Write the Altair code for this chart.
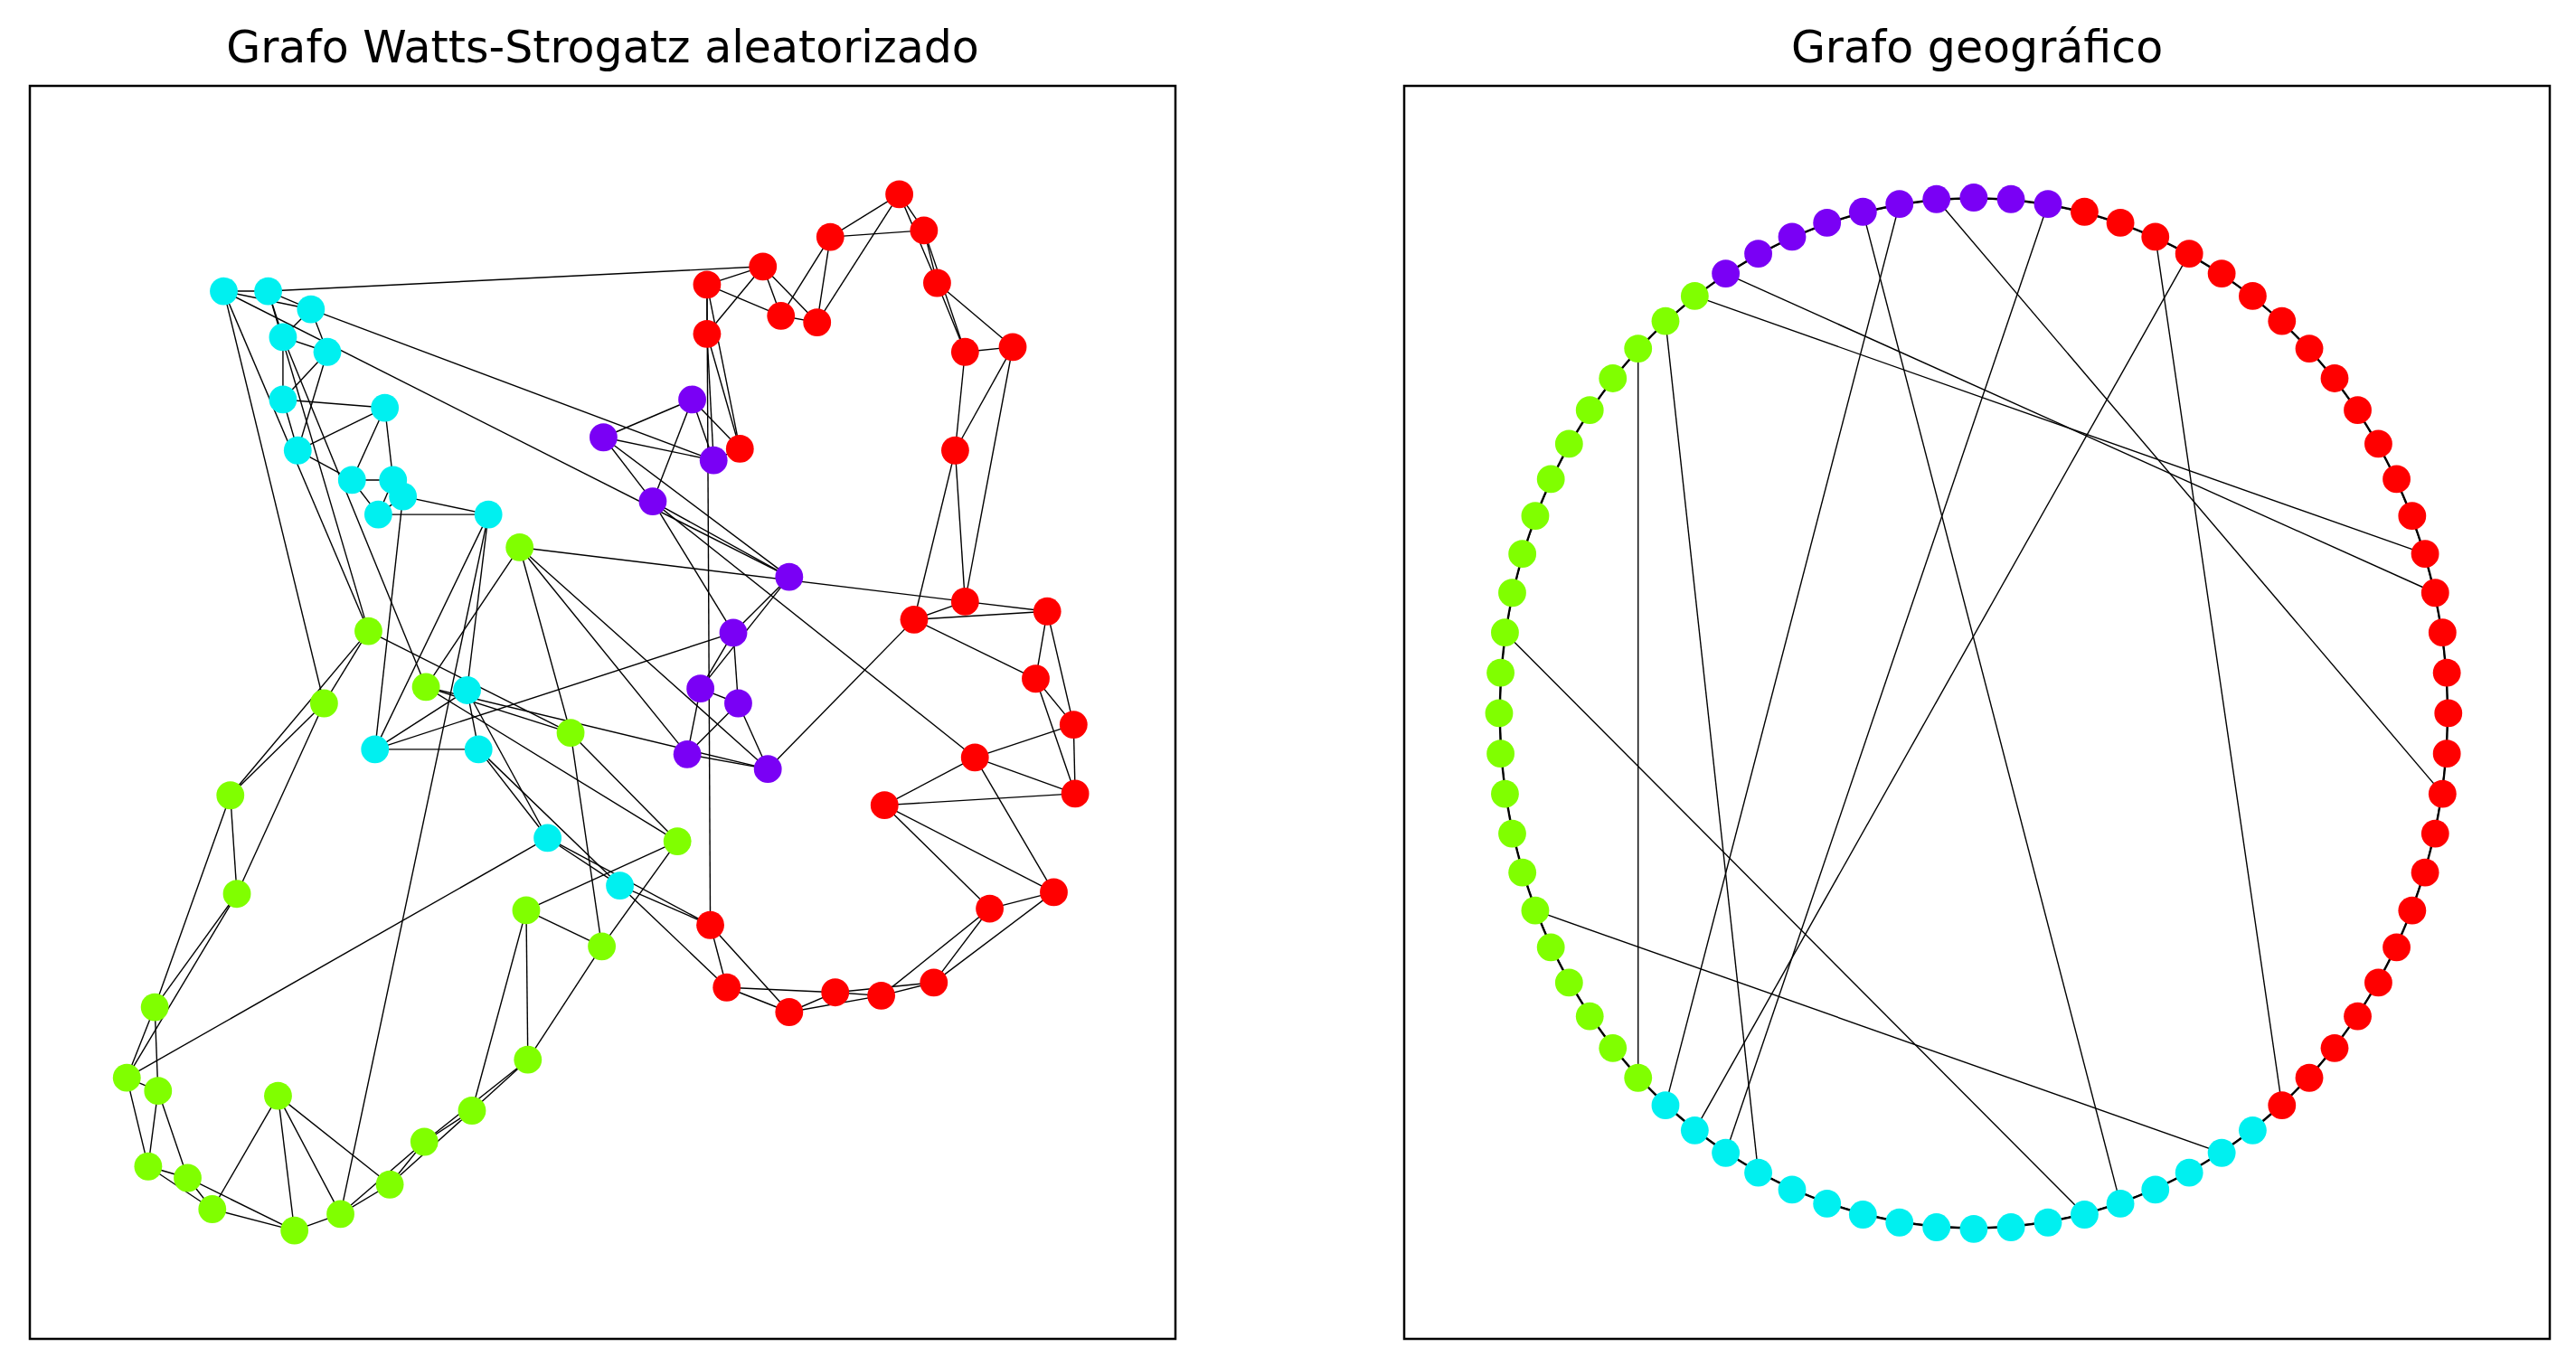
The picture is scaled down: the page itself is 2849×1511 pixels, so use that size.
import altair as alt
import pandas as pd
import math

# node groups in ring order (ring index k assigned below)
# left panel (spring layout) positions, in reference-picture coordinates
purple_left = [(466,468),(417,459),(448,428),(425,419),(445,385),(479,351),(396,305),(366,266),(420,243),(433,280)]
red_left = [(449,273),(429,203),(429,173),(463,162),(474,192),(496,196),(504,144),(546,118),(561,140),(569,172),
            (586,214),(615,211),(580,274),(586,366),(555,377),(636,372),(629,413),(652,441),(653,483),(592,461),
            (537,490),(640,543),(601,553),(567,598),(535,606),(507,604),(479,616),(441,601),(431,563)]
cyan_left = [(376,539),(332,510),(290,456),(283,420),(227,456),(296,313),(244,302),(229,313),(238,292),(213,292),
             (233,248),(180,274),(171,243),(198,214),(171,205),(188,188),(162,177),(135,177)]
green_left = [(223,384),(196,428),(139,484),(143,544),(93,613),(76,656),(95,664),(89,710),(113,717),(128,736),
              (178,749),(168,667),(206,739),(236,721),(257,695),(286,676),(320,645),(319,554),(365,576),(411,512),
              (346,446),(258,418),(315,333)]
# ring index of each group's first node
purple_start, red_start, cyan_start, green_start = 73, 3, 32, 50
N = 80
shortcuts = [(73,17),(72,16),(71,46),(70,50),(78,49),(77,36),(2,47),(6,48),(5,31),(79,22),(62,37),(55,33)]

colors = {"purple":"#7a00f5","red":"#ff0000","cyan":"#00f0f0","green":"#80ff00"}

rows = {}
for name, lst, start in [("purple",purple_left,purple_start),("red",red_left,red_start),
                         ("cyan",cyan_left,cyan_start),("green",green_left,green_start)]:
    for j,(x,y) in enumerate(lst):
        k = (start + j) % N
        ang = math.radians(360.0 * k / N)
        rows[k] = dict(k=k, grp=name, lx=x, ly=y,
                       rx=1202 + 290*math.sin(ang), ry=434 - 314*math.cos(ang))
nodes = pd.DataFrame([rows[k] for k in sorted(rows)])

edges = set()
for k in range(N):
    for d in (1,2):
        edges.add(tuple(sorted((k,(k+d)%N))))
for a,b in shortcuts:
    edges.add(tuple(sorted((a,b))))
erows = []
for a,b in sorted(edges):
    A, B = rows[a], rows[b]
    erows.append(dict(lx=A["lx"],ly=A["ly"],lx2=B["lx"],ly2=B["ly"],rx=A["rx"],ry=A["ry"],rx2=B["rx"],ry2=B["ry"]))
edf = pd.DataFrame(erows)

W, H = 1267, 1386
cscale = alt.Scale(domain=list(colors.keys()), range=list(colors.values()))

def panel(px, title, xdom):
    xs = alt.Scale(domain=xdom, nice=False, zero=False)
    ys = alt.Scale(domain=[815,52], nice=False, zero=False)
    e = alt.Chart(edf).mark_rule(color="black", strokeWidth=1.4).encode(
        x=alt.X(px+"x:Q", scale=xs, axis=None), y=alt.Y(px+"y:Q", scale=ys, axis=None),
        x2=px+"x2:Q", y2=px+"y2:Q")
    n = alt.Chart(nodes).mark_point(filled=True, size=950, opacity=1, shape="circle").encode(
        x=alt.X(px+"x:Q", scale=xs, axis=None), y=alt.Y(px+"y:Q", scale=ys, axis=None),
        color=alt.Color("grp:N", scale=cscale, legend=None))
    return alt.layer(e, n).properties(width=W, height=H,
        title=alt.TitleParams(title, fontSize=49, font="DejaVu Sans", fontWeight="normal", offset=16))

chart = alt.hconcat(
    panel("l", "Grafo Watts-Strogatz aleatorizado", [17,714]),
    panel("r", "Grafo geográfico", [854,1554]),
    spacing=249
).properties(padding={"left":23,"top":20,"right":5,"bottom":5}).configure_view(
    stroke="black", strokeWidth=2.5)

chart.save("out.html", embed_options={"renderer": "svg", "actions": False})
